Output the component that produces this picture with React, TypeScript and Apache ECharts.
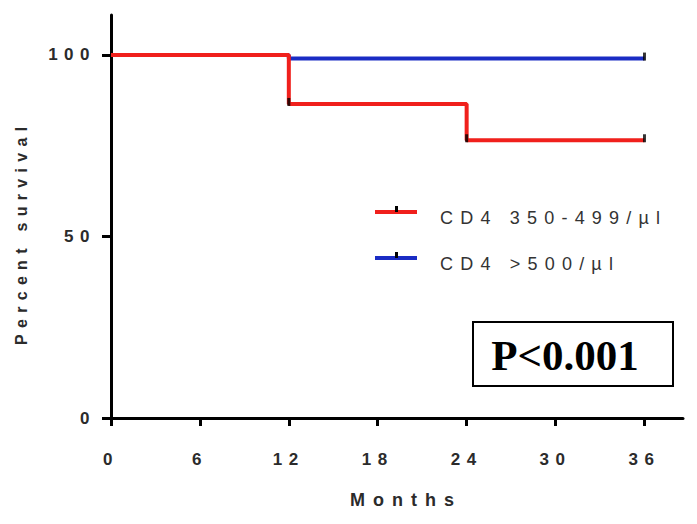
import React, { useEffect, useRef } from "react";
import * as echarts from "echarts";

const redMonths = [0, 12, 24, 36];
const redSurvival = [100, 86.5, 76.5, 76.5];
const blueMonths = [0, 12, 36];
const blueSurvival = [100, 99, 99];
const redCensorMonths = [12, 24, 36];
const redCensorSurvival = [86.5, 76.5, 76.5];
const blueCensorMonths = [36];
const blueCensorSurvival = [99];
const xTicks = [0, 6, 12, 18, 24, 30, 36];
const yTicks = [0, 50, 100];
const legendLabels = ["CD4 350-499/µl", "CD4 >500/µl"];
const xTitle = "Months";
const yTitle = "Percent survival";
const pText = "P<0.001";

const RED = "#f0201c";
const BLUE = "#1a2cc4";
const SANS = "'Liberation Sans', Arial, sans-serif";

const pair = (xs: number[], ys: number[]) => xs.map((x, i) => [x, ys[i]]);

export default function App() {
  const ref = useRef<HTMLDivElement>(null);
  useEffect(() => {
    document.body.style.margin = "0";
    const el = ref.current!;
    const chart = echarts.init(el, undefined, { renderer: "svg" });
    const option: any = {
      animation: false,
      backgroundColor: "#ffffff",
      grid: { left: 111, right: 14, top: 15, bottom: 106 },
      xAxis: {
        type: "value",
        min: 0,
        max: 38.6,
        splitLine: { show: false },
        axisLine: { show: true, lineStyle: { color: "#000", width: 3 } },
        axisTick: { show: true, length: 8, lineStyle: { color: "#000", width: 3 }, customValues: xTicks },
        axisLabel: { margin: 33, fontFamily: SANS, fontWeight: "bold", fontSize: 17, color: "#2b2b2b", customValues: xTicks },
      },
      yAxis: {
        type: "value",
        min: 0,
        max: 111,
        splitLine: { show: false },
        axisLine: { show: true, lineStyle: { color: "#000", width: 3 } },
        axisTick: { show: true, length: 9, lineStyle: { color: "#000", width: 3 }, customValues: yTicks },
        axisLabel: { margin: 15, fontFamily: SANS, fontWeight: "bold", fontSize: 17, color: "#2b2b2b", customValues: yTicks },
      },
      series: [
        {
          type: "line",
          data: pair(blueMonths, blueSurvival),
          step: "end",
          showSymbol: false,
          lineStyle: { color: BLUE, width: 4 },
          silent: true,
          z: 2,
        },
        {
          type: "line",
          data: pair(redMonths, redSurvival),
          step: "end",
          showSymbol: false,
          lineStyle: { color: RED, width: 4 },
          silent: true,
          z: 3,
        },
        {
          type: "scatter",
          data: pair(redCensorMonths, redCensorSurvival).concat(pair(blueCensorMonths, blueCensorSurvival)),
          symbol: "rect",
          symbolSize: [3, 8],
          symbolOffset: [0, -2],
          itemStyle: { color: "#000" },
          silent: true,
          z: 4,
        },
      ],
      graphic: [
        { type: "text", x: 350, y: 500, style: { text: xTitle, font: `bold 18px ${SANS}`, fill: "#2b2b2b", align: "left", verticalAlign: "middle" } },
        { type: "text", x: 21, y: 345, rotation: Math.PI / 2, style: { text: yTitle, font: `bold 16px ${SANS}`, fill: "#2b2b2b", align: "left", verticalAlign: "middle" } },
        { type: "line", shape: { x1: 375, y1: 212, x2: 417, y2: 212 }, style: { stroke: RED, lineWidth: 4 } },
        { type: "rect", shape: { x: 395, y: 206, width: 3, height: 6 }, style: { fill: "#000" } },
        { type: "text", x: 440, y: 218, style: { text: legendLabels[0], font: `18px ${SANS}`, fill: "#333", verticalAlign: "middle" } },
        { type: "line", shape: { x1: 375, y1: 258, x2: 417, y2: 258 }, style: { stroke: BLUE, lineWidth: 4 } },
        { type: "rect", shape: { x: 395, y: 252, width: 3, height: 6 }, style: { fill: "#000" } },
        { type: "text", x: 440, y: 264, style: { text: legendLabels[1], font: `18px ${SANS}`, fill: "#333", verticalAlign: "middle" } },
        { type: "rect", shape: { x: 473, y: 322, width: 200, height: 64 }, style: { fill: "#fff", stroke: "#000", lineWidth: 2 } },
        { type: "text", x: 565, y: 355, style: { text: pText, font: `bold 43px 'Liberation Serif', 'Times New Roman', serif`, fill: "#000", align: "center", verticalAlign: "middle" } },
      ],
    };
    chart.setOption(option);
    const applySpacing = () => {
      el.querySelectorAll("text").forEach((t) => {
        const s = t.textContent || "";
        let ls: number | null = null;
        if (/^\d+$/.test(s)) ls = 6.5;
        else if (s === xTitle) ls = 8;
        else if (s === yTitle) ls = 6.3;
        else if (s.startsWith("CD4")) ls = 7.2;
        if (ls != null) t.setAttribute("letter-spacing", String(ls));
      });
    };
    applySpacing();
    const timer = setTimeout(applySpacing, 50);
    return () => {
      clearTimeout(timer);
      chart.dispose();
    };
  }, []);
  return <div ref={ref} style={{ width: 697, height: 524 }} />;
}
